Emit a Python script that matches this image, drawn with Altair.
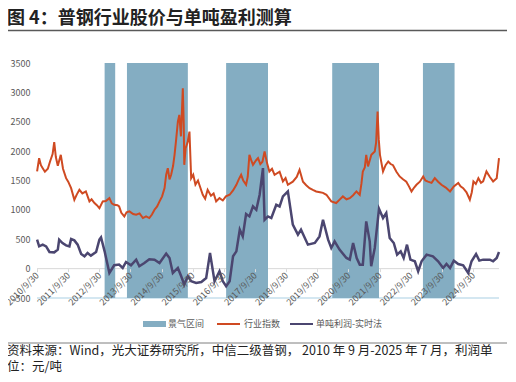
import altair as alt
import pandas as pd

FONT = "Noto Sans CJK SC"

# 行业指数 (red)
idx_dates = [
    "2010-10-01", "2010-10-25", "2010-11-15", "2010-12-06", "2011-01-01", "2011-02-04", "2011-03-01",
    "2011-04-01", "2011-04-20", "2011-05-09", "2011-06-01", "2011-07-06", "2011-08-01", "2011-09-06",
    "2011-10-01", "2011-11-04", "2011-12-12", "2012-01-09", "2012-02-09", "2012-03-15", "2012-04-25",
    "2012-06-06", "2012-07-01", "2012-08-04", "2012-09-01", "2012-10-01", "2012-11-09", "2012-12-15",
    "2013-01-26", "2013-02-23", "2013-03-23", "2013-05-01", "2013-05-20", "2013-06-15", "2013-07-20",
    "2013-08-15", "2013-09-18", "2013-11-01", "2013-12-06", "2014-01-15", "2014-02-23", "2014-04-01",
    "2014-05-09", "2014-06-09", "2014-07-09", "2014-08-09", "2014-09-06", "2014-10-06", "2014-11-04",
    "2014-11-23", "2014-12-12", "2015-01-01", "2015-01-20", "2015-02-12", "2015-03-01", "2015-03-20",
    "2015-04-09", "2015-04-26", "2015-05-15", "2015-06-06", "2015-06-17", "2015-06-23", "2015-07-09",
    "2015-08-01", "2015-08-23", "2015-09-12", "2015-10-06", "2015-11-01", "2015-12-01", "2015-12-17",
    "2016-01-26", "2016-02-23", "2016-03-23", "2016-05-01", "2016-06-01", "2016-07-01", "2016-08-09",
    "2016-09-17", "2016-10-23", "2016-12-06", "2017-01-15", "2017-02-23", "2017-03-23", "2017-04-20",
    "2017-05-15", "2017-06-17", "2017-07-06", "2017-07-26", "2017-08-15", "2017-09-06", "2017-10-15",
    "2017-11-04", "2017-12-01", "2017-12-26", "2018-01-20", "2018-02-17", "2018-03-17", "2018-04-17",
    "2018-05-17", "2018-07-15", "2018-08-23", "2018-09-23", "2018-10-20", "2018-12-17", "2019-02-01",
    "2019-03-06", "2019-04-15", "2019-05-23", "2019-07-01", "2019-08-09", "2019-09-17", "2019-11-01",
    "2019-12-06", "2020-01-15", "2020-03-12", "2020-05-09", "2020-06-15", "2020-07-26", "2020-09-06",
    "2020-10-15", "2020-11-23", "2021-01-01", "2021-02-09", "2021-03-01", "2021-03-17", "2021-04-09",
    "2021-04-26", "2021-05-17", "2021-06-25", "2021-08-04", "2021-08-20", "2021-09-06", "2021-09-20",
    "2021-10-04", "2021-11-09", "2021-12-09", "2022-01-09", "2022-02-06", "2022-03-06", "2022-04-15",
    "2022-05-23", "2022-07-01", "2022-08-09", "2022-09-09", "2022-10-09", "2022-11-09", "2022-12-06",
    "2023-01-15", "2023-02-23", "2023-03-20", "2023-04-20", "2023-06-01", "2023-07-09", "2023-08-17",
    "2023-09-25", "2023-11-15", "2024-01-04", "2024-02-17", "2024-04-09", "2024-05-06", "2024-06-06",
    "2024-07-15", "2024-08-23", "2024-09-15", "2024-10-04", "2024-11-01", "2024-12-01", "2025-01-01",
    "2025-01-26", "2025-03-06", "2025-04-15", "2025-05-23", "2025-07-04", "2025-07-17", "2025-07-31",
]
idx_values = [
    1654, 1880, 1760, 1710, 1650, 1700, 1820,
    1950, 2152, 1900, 1750, 1937, 1700, 1540,
    1480, 1370, 1172, 1260, 1342, 1280, 1314,
    1144, 1180, 1116, 1080, 1030, 1144, 1150,
    1200, 1110, 1087, 1080, 1059, 950, 889,
    960, 974, 930, 917, 940, 861, 890,
    861, 920, 1002, 1060, 1144, 1230, 1370,
    1600, 1710, 1520, 1597, 1750, 1937, 2200,
    2503, 2616, 2250, 3069, 2450, 1767, 2050,
    2150, 2333, 1540, 1600, 1430, 1500, 1427,
    1257, 1190, 1342, 1240, 1280, 1144, 1200,
    1160, 1230, 1257, 1330, 1427, 1520, 1597,
    1500, 1427, 1560, 1937, 1850, 1767, 1850,
    1880, 1780, 1820, 1993, 1800, 1654, 1700,
    1597, 1650, 1484, 1540, 1427, 1480, 1560,
    1682, 1480, 1420, 1370, 1340, 1314, 1300,
    1290, 1257, 1144, 1116, 1170, 1229, 1180,
    1200, 1250, 1314, 1257, 1450, 1654, 1720,
    1937, 1740, 1937, 1993, 2150, 2673, 2200,
    1937, 1654, 1760, 1823, 1780, 1760, 1650,
    1569, 1520, 1480, 1400, 1314, 1380, 1427,
    1480, 1569, 1500, 1480, 1460, 1540, 1480,
    1427, 1380, 1314, 1400, 1460, 1400, 1370,
    1300, 1172, 1300, 1484, 1440, 1540, 1460,
    1484, 1654, 1560, 1484, 1540, 1700, 1880,
]

# 单吨利润-实时法 (purple)
profit_dates = [
    "2010-10-01", "2010-10-25", "2010-12-06", "2011-01-15", "2011-02-23", "2011-04-20", "2011-06-01",
    "2011-06-17", "2011-07-26", "2011-09-06", "2011-10-15", "2011-11-04", "2011-12-12", "2012-01-20",
    "2012-03-01", "2012-04-09", "2012-05-15", "2012-06-23", "2012-08-23", "2012-10-01", "2012-10-20",
    "2012-12-01", "2013-01-26", "2013-03-23", "2013-05-20", "2013-07-01", "2013-08-09", "2013-10-06",
    "2013-12-06", "2014-01-12", "2014-03-12", "2014-05-09", "2014-07-09", "2014-09-06", "2014-11-23",
    "2015-01-01", "2015-02-09", "2015-04-09", "2015-05-18", "2015-06-23", "2015-08-04", "2015-09-12",
    "2015-11-09", "2016-01-09", "2016-03-06", "2016-04-20", "2016-06-12", "2016-08-09", "2016-09-17",
    "2016-10-26", "2016-12-06", "2017-01-15", "2017-02-23", "2017-04-04", "2017-05-09", "2017-06-17",
    "2017-07-26", "2017-09-06", "2017-10-15", "2017-11-23", "2018-01-01", "2018-01-20", "2018-03-01",
    "2018-04-09", "2018-06-06", "2018-07-15", "2018-08-23", "2018-10-20", "2018-12-17", "2019-02-15",
    "2019-03-23", "2019-06-12", "2019-09-01", "2019-10-26", "2019-12-06", "2020-02-04", "2020-03-12",
    "2020-04-20", "2020-06-17", "2020-09-06", "2020-10-15", "2020-11-23", "2021-01-04", "2021-02-09",
    "2021-03-17", "2021-04-26", "2021-06-06", "2021-06-23", "2021-08-04", "2021-09-23", "2021-11-09",
    "2021-12-17", "2022-01-26", "2022-03-15", "2022-04-23", "2022-06-04", "2022-07-09", "2022-08-17",
    "2022-09-26", "2022-11-17", "2022-12-26", "2023-02-04", "2023-04-04", "2023-06-17", "2023-08-17",
    "2023-10-15", "2023-11-23", "2024-01-04", "2024-02-17", "2024-04-09", "2024-06-06", "2024-08-04",
    "2024-09-12", "2024-11-04", "2024-12-12", "2025-01-26", "2025-04-15", "2025-05-23", "2025-07-04",
    "2025-07-31",
]
profit_values = [
    493, 379, 408, 379, 283, 277, 323,
    493, 436, 396, 379, 504, 481, 408,
    249, 210, 266, 221, 283, 493, 532,
    294, -74, 57, 68, 11, 113, 57,
    153, 40, 96, 159, 153, 96, 255,
    181, -74, 11, -130, -272, -130, -215,
    -244, -227, -159, 266, -215, -45, -215,
    -300, -215, 210, 294, 663, 549, 929,
    889, 1059, 1002, 1257, 1710, 832, 889,
    861, 1087, 1059, 1229, 1314, 748, 578,
    663, 408, 436, 549, 832, 493, 351,
    464, 323, 181, 153, 436, 181, 68,
    68, 804, 464, 40, 351, 1019, 861,
    946, 521, 436, 238, 294, 181, 408,
    153, 125, -45, 125, 238, 210, 125,
    11, 79, 11, 136, 79, 57, -74,
    125, 249, 136, 153, 153, 125, 181,
    283,
]

# 景气区间 (shaded periods)
band_start = ["2012-12-01", "2013-08-20", "2016-10-26", "2020-03-23", "2023-02-20"]
band_end = ["2013-04-04", "2015-08-04", "2018-03-01", "2021-09-23", "2024-02-26"]

y_ticks = [-500, 0, 500, 1000, 1500, 2000, 2500, 3000, 3500]
tick_years = list(range(2010, 2025))

legend_labels = ["景气区间", "行业指数", "单吨利润-实时法"]
title_text = "图 4：普钢行业股价与单吨盈利测算"
source_lines = ["资料来源：Wind，光大证券研究所，中信二级普钢， 2010 年 9 月-2025 年 7 月，利润单", "位：元/吨"]

C_BAND = "#84adc2"
C_RED = "#cf4a22"
C_PURPLE = "#4b4670"
C_TEXT = "#595959"

W, H = 462, 235

idx_df = pd.DataFrame({"date": idx_dates, "value": idx_values})
profit_df = pd.DataFrame({"date": profit_dates, "value": profit_values})
band_df = pd.DataFrame({"start": band_start, "end": band_end})

x_scale = alt.Scale(domain=[alt.DateTime(year=2010, month=9, date=30),
                            alt.DateTime(year=2025, month=7, date=31)])
y_scale = alt.Scale(domain=[-500, 3500], nice=False, zero=False)

x_axis = alt.Axis(
    values=[alt.DateTime(year=y, month=9, date=30) for y in tick_years],
    labelExpr="timeFormat(datum.value, '%Y') + '/9/30'",
    labelAngle=-45, labelAlign="right", labelBaseline="middle",
    labelFontSize=9, labelColor=C_TEXT, labelPadding=2, labelOverlap=False,
    labelFlush=False, labelBound=False,
    domain=False, ticks=True, tickColor="#d9d9d9", tickSize=3,
    grid=False, offset=-(500 / 4000) * H, title=None, zindex=1,
)
y_axis = alt.Axis(
    values=y_ticks, labelExpr="'' + datum.value",
    labelFontSize=9, labelColor=C_TEXT, labelPadding=7, labelOverlap=False,
    labelFlush=False, labelBound=False,
    domain=False, ticks=False, grid=False, title=None,
)

one = pd.DataFrame({"k": [0]})

zero_rule = alt.Chart(one).mark_rule(color="#d9d9d9", strokeWidth=1).encode(
    y=alt.datum(0, scale=y_scale, axis=y_axis)
)
bottom_rule = alt.Chart(one).mark_rule(color="#a9cfe3", strokeWidth=1).encode(
    y=alt.datum(-500, scale=y_scale, axis=y_axis)
)
bands = alt.Chart(band_df).mark_rect(color=C_BAND).encode(
    x=alt.X("start:T", scale=x_scale, axis=x_axis),
    x2="end:T",
    y=alt.datum(3500, scale=y_scale, axis=y_axis),
    y2=alt.datum(-500),
)
red = alt.Chart(idx_df).mark_line(color=C_RED, strokeWidth=2).encode(
    x=alt.X("date:T", scale=x_scale, axis=x_axis),
    y=alt.Y("value:Q", scale=y_scale, axis=y_axis),
)
purple = alt.Chart(profit_df).mark_line(color=C_PURPLE, strokeWidth=2.5).encode(
    x=alt.X("date:T", scale=x_scale, axis=x_axis),
    y=alt.Y("value:Q", scale=y_scale, axis=y_axis),
)

# title & source
title = alt.Chart(one).mark_text(
    text=title_text, fontSize=18, fontWeight="bold", color="#222222",
    align="left", baseline="middle",
).encode(x=alt.value(-30), y=alt.value(-44.5))
title_rule = alt.Chart(one).mark_rule(color="#595959", strokeWidth=1.5).encode(
    x=alt.value(-31), x2=alt.value(470), y=alt.value(-32.5)
)
src_rule = alt.Chart(one).mark_rule(color="#7f7f7f", strokeWidth=1).encode(
    x=alt.value(-31), x2=alt.value(470), y=alt.value(280)
)
src1 = alt.Chart(one).mark_text(
    text=source_lines[0], fontSize=12.5, color="#222222", align="left", baseline="middle"
).encode(x=alt.value(-30), y=alt.value(287.5))
src2 = alt.Chart(one).mark_text(
    text=source_lines[1], fontSize=12.5, color="#222222", align="left", baseline="middle"
).encode(x=alt.value(-30), y=alt.value(304))

# legend
LY = 261
leg_rect = alt.Chart(one).mark_rect(color=C_BAND).encode(
    x=alt.value(106), x2=alt.value(129), y=alt.value(LY - 3), y2=alt.value(LY + 3)
)
leg_red = alt.Chart(one).mark_rule(color=C_RED, strokeWidth=2).encode(
    x=alt.value(180), x2=alt.value(203), y=alt.value(LY)
)
leg_purple = alt.Chart(one).mark_rule(color=C_PURPLE, strokeWidth=2).encode(
    x=alt.value(253), x2=alt.value(276), y=alt.value(LY)
)
leg_t1 = alt.Chart(one).mark_text(text=legend_labels[0], fontSize=9, color=C_TEXT,
                                  align="left", baseline="middle").encode(
    x=alt.value(131), y=alt.value(LY))
leg_t2 = alt.Chart(one).mark_text(text=legend_labels[1], fontSize=9, color=C_TEXT,
                                  align="left", baseline="middle").encode(
    x=alt.value(207), y=alt.value(LY))
leg_t3 = alt.Chart(one).mark_text(text=legend_labels[2], fontSize=9, color=C_TEXT,
                                  align="left", baseline="middle").encode(
    x=alt.value(279), y=alt.value(LY))

chart = alt.layer(
    zero_rule, bottom_rule, bands, red, purple,
    title, title_rule, src_rule, src1, src2,
    leg_rect, leg_red, leg_purple, leg_t1, leg_t2, leg_t3,
).properties(
    width=W, height=H,
    autosize=alt.AutoSizeParams(type="none"),
    padding={"left": 29, "top": 55, "right": 9, "bottom": 76},
).configure(font=FONT).configure_axis(labelOverlap=False).configure_view(stroke=None)

chart.save("out.html", embed_options={"renderer": "svg", "actions": False})
